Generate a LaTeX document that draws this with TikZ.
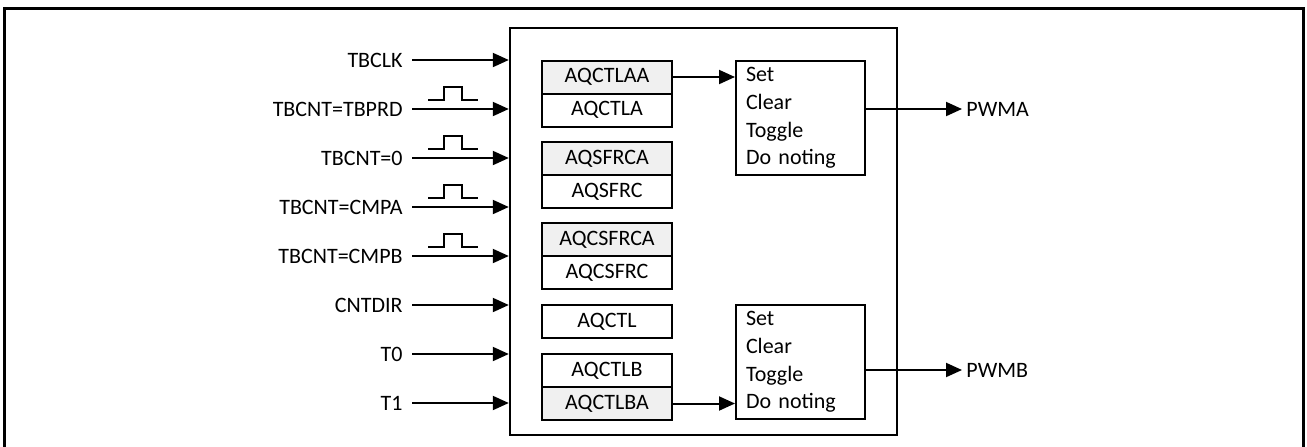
\documentclass[tikz,border=0pt]{standalone}
\usepackage{fontspec}
\setmainfont{Carlito}
\usetikzlibrary{arrows.meta,positioning}
\tikzset{
  reg/.style={draw, line width=1pt, minimum width=65pt, minimum height=16.5pt, inner sep=0pt, outer sep=0pt},
  shade/.style={reg, fill=black!6},
  act/.style={draw, line width=1pt, minimum width=64.5pt, minimum height=57pt, align=left, text width=54.5pt, inner xsep=5pt, inner ysep=0pt, font=\fontsize{11}{13.8}\selectfont},
  sig/.style={anchor=east, inner sep=4.5pt},
  wire/.style={line width=1pt, -{Triangle[length=8pt,width=7pt]}}
}
\begin{document}
\begin{tikzpicture}[x=0.5pt, y=-0.5pt, font=\fontsize{11}{13.5}\selectfont]
  \useasboundingbox (0,0) rectangle (1307,446);
  \draw[line width=1.5pt] (4,8) rectangle (1303,470);
  \node[draw, line width=1.2pt, minimum width=193.5pt, minimum height=203.5pt] (main) at (703.5,231.5) {};
  \node[shade] (aqctlaa) at (607,77) {AQCTLAA};
  \node[reg, below=0pt of aqctlaa] (aqctla) {AQCTLA};
  \node[shade] (aqsfrca) at (607,158.5) {AQSFRCA};
  \node[reg, below=0pt of aqsfrca] (aqsfrc) {AQSFRC};
  \node[shade] (aqcsfrca) at (607,239.5) {AQCSFRCA};
  \node[reg, below=0pt of aqcsfrca] (aqcsfrc) {AQCSFRC};
  \node[reg] (aqctl) at (607,321.5) {AQCTL};
  \node[reg] (aqctlb) at (607,370.5) {AQCTLB};
  \node[shade, below=0pt of aqctlb] (aqctlba) {AQCTLBA};
  \node[act] (acta) at (800.5,118) {\raisebox{-2pt}{\parbox{54.5pt}{Set\\Clear\\Toggle\\Do noting}}};
  \node[act] (actb) at (800.5,362) {\raisebox{-2pt}{\parbox{54.5pt}{Set\\Clear\\Toggle\\Do noting}}};
  \draw[wire] (aqctlaa.east) -- (aqctlaa.east -| acta.west);
  \draw[wire] (aqctlba.east) -- (aqctlba.east -| actb.west);
  \node[anchor=west, inner sep=2pt] (pwma) at (962,109) {PWMA};
  \node[anchor=west, inner sep=2pt] (pwmb) at (962,370) {PWMB};
  \draw[wire] (pwma.west -| acta.east) -- (pwma.west);
  \draw[wire] (pwmb.west -| actb.east) -- (pwmb.west);
  \foreach \nm/\txt [count=\i from 0] in {tbclk/TBCLK, tbprd/TBCNT=TBPRD, zro/TBCNT=0, cmpa/TBCNT=CMPA,
      cmpb/TBCNT=CMPB, dir/CNTDIR, tzero/T0, tone/T1} {
    \node[sig] (\nm) at (412,60+49*\i) {\txt};
    \draw[wire] (\nm.east) -- (\nm.east -| main.west);
  }
  \foreach \nm in {tbprd,zro,cmpa,cmpb}
    \draw[line width=1pt, shift={(\nm.east)}] (16,-9) -- ++(16,0) -- ++(0,-13) -- ++(18,0) -- ++(0,13) -- ++(16,0);
\end{tikzpicture}
\end{document}
